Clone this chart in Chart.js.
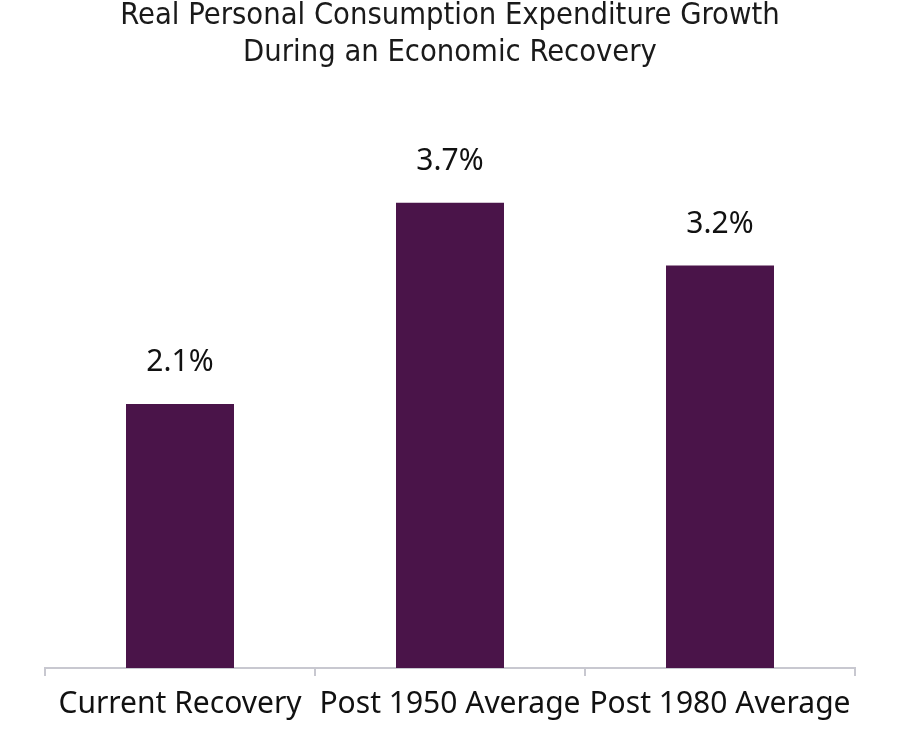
<!DOCTYPE html>
<html><head><meta charset="utf-8">
<script src="https://cdn.jsdelivr.net/npm/chart.js@4.4.1/dist/chart.umd.min.js"></script>
<style>html,body{margin:0;padding:0;background:#fff;}</style>
</head><body>
<canvas id="c" width="900" height="740"></canvas>
<script>
const categories = ["Current Recovery", "Post 1950 Average", "Post 1980 Average"];
const growthValues = [2.1, 3.7, 3.2];
const titleLines = ["Real Personal Consumption Expenditure Growth", "During an Economic Recovery"];

const titlePlugin = {
  id: 'titleText',
  afterDraw(chart) {
    const ctx = chart.ctx;
    ctx.save();
    ctx.fillStyle = '#1a1a1a';
    ctx.font = '30.6px "DejaVu Sans Condensed"';
    ctx.textAlign = 'center';
    ctx.textBaseline = 'middle';
    ctx.fillText(titleLines[0], 450, 16);
    ctx.fillText(titleLines[1], 450, 53);
    ctx.restore();
  }
};
const labelPlugin = {
  id: 'valLabels',
  afterDatasetsDraw(chart) {
    const ctx = chart.ctx;
    const meta = chart.getDatasetMeta(0);
    ctx.save();
    ctx.fillStyle = '#111';
    ctx.font = '30px "Noto Sans"';
    ctx.textAlign = 'center';
    ctx.textBaseline = 'middle';
    meta.data.forEach((bar, i) => {
      ctx.fillText(growthValues[i].toFixed(1) + '%', bar.x, bar.y - 41);
    });
    ctx.restore();
  }
};

new Chart(document.getElementById('c'), {
  type: 'bar',
  data: {
    labels: categories,
    datasets: [{
      data: growthValues,
      backgroundColor: '#4a1449',
      categoryPercentage: 0.8,
      barPercentage: 0.5
    }]
  },
  options: {
    responsive: false,
    animation: false,
    layout: { padding: { left: 45, right: 45, top: 165, bottom: 8 } },
    plugins: { legend: { display: false }, title: { display: false }, tooltip: { enabled: false } },
    scales: {
      y: { display: false, min: 0, max: 4 },
      x: {
        offset: true,
        grid: { offset: true, drawOnChartArea: false, tickLength: 8, color: '#c8c8d0', lineWidth: 2 },
        border: { color: '#c8c8d0', width: 2 },
        ticks: { color: '#111', font: { family: 'Noto Sans', size: 30 }, padding: 10, maxRotation: 0, autoSkip: false }
      }
    }
  },
  plugins: [titlePlugin, labelPlugin]
});
</script>
</body></html>
